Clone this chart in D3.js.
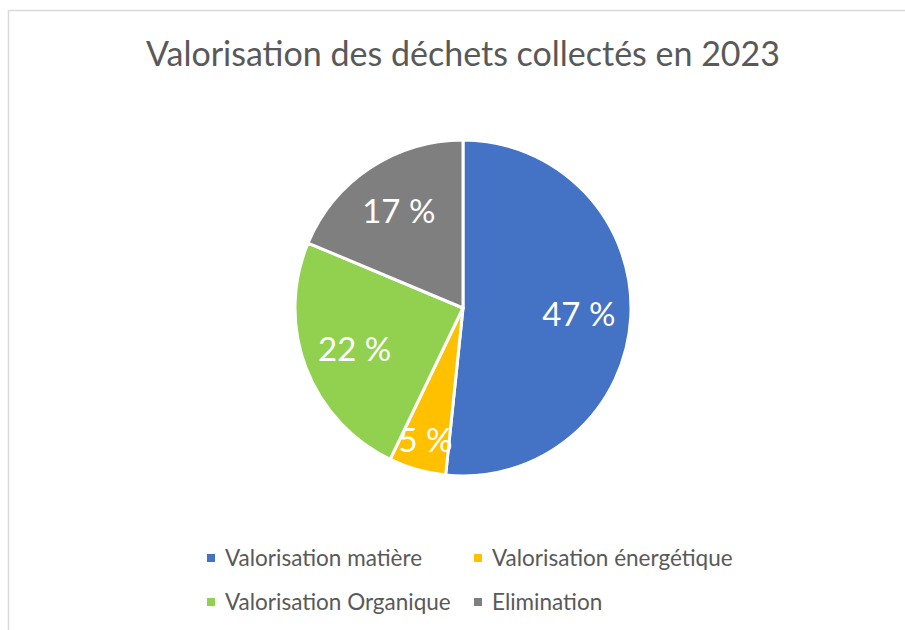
<!DOCTYPE html>
<html>
<head>
<meta charset="utf-8">
<script src="https://cdn.jsdelivr.net/npm/d3@7"></script>
<style>
  body { margin: 0; background: #fff; }
  svg text { font-family: Lato, "Open Sans", sans-serif; }
</style>
</head>
<body>
<div id="chart"></div>
<script>
// Data
var categories = ["Valorisation matière", "Valorisation énergétique", "Valorisation Organique", "Elimination"];
var values = [47, 5, 22, 17];
var colors = ["#4472C4", "#FFC000", "#92D050", "#7F7F7F"];
var title = "Valorisation des déchets collectés en 2023";

var width = 905, height = 630;

var svg = d3.select("#chart").append("svg")
    .attr("width", width)
    .attr("height", height);

// chart area border
svg.append("rect")
    .attr("x", 8.5).attr("y", 10.5)
    .attr("width", 910).attr("height", 640)
    .attr("fill", "none")
    .attr("stroke", "#d9d9d9")
    .attr("stroke-width", 1.5);

// title
svg.append("text")
    .attr("x", 463).attr("y", 66)
    .attr("text-anchor", "middle")
    .attr("font-size", 34)
    .attr("fill", "#595959")
    .text(title);

// pie
var cx = 463, cy = 308, radius = 168;

var pie = d3.pie().sort(null).value(function(d) { return d; });
var arc = d3.arc().innerRadius(0).outerRadius(radius);

var arcs = pie(values);

var g = svg.append("g")
    .attr("transform", "translate(" + cx + "," + cy + ")");

g.selectAll(".slice")
    .data(arcs)
    .enter().append("path")
    .attr("class", "slice")
    .attr("d", arc)
    .attr("fill", function(d, i) { return colors[i]; })
    .attr("stroke", "#fff")
    .attr("stroke-width", 3)
    .attr("stroke-linejoin", "round");

var labels = g.selectAll(".lbl")
    .data(arcs)
    .enter().append("text")
    .attr("class", "lbl")
    .attr("text-anchor", "middle")
    .attr("dy", "0.35em")
    .attr("font-size", 33)
    .attr("fill", "#fff")
    .text(function(d) { return d.value + " %"; });

// best fit: push label outward in thin slices so it fits between the edges
labels.attr("transform", function(d) {
    var w = this.getComputedTextLength();
    var half = (d.endAngle - d.startAngle) / 2;
    var rr = radius * 0.69;
    if (half < Math.PI / 2) rr = Math.min(radius * 0.82, Math.max(rr, (w / 2) / Math.sin(half)));
    var a = (d.startAngle + d.endAngle) / 2;
    return "translate(" + (rr * Math.sin(a)) + "," + (-rr * Math.cos(a)) + ")";
});

// legend
var legX = [207, 474], legY = [558, 602];
var leg = svg.selectAll(".leg")
    .data(categories)
    .enter().append("g")
    .attr("class", "leg")
    .attr("transform", function(d, i) { return "translate(" + legX[i % 2] + "," + legY[Math.floor(i / 2)] + ")"; });

leg.append("rect")
    .attr("x", 0).attr("y", -4)
    .attr("width", 8).attr("height", 8)
    .attr("fill", function(d, i) { return colors[i]; });

leg.append("text")
    .attr("x", 18).attr("y", 0)
    .attr("dy", "0.35em")
    .attr("font-size", 22.5)
    .attr("fill", "#595959")
    .text(function(d) { return d; });
</script>
</body>
</html>
